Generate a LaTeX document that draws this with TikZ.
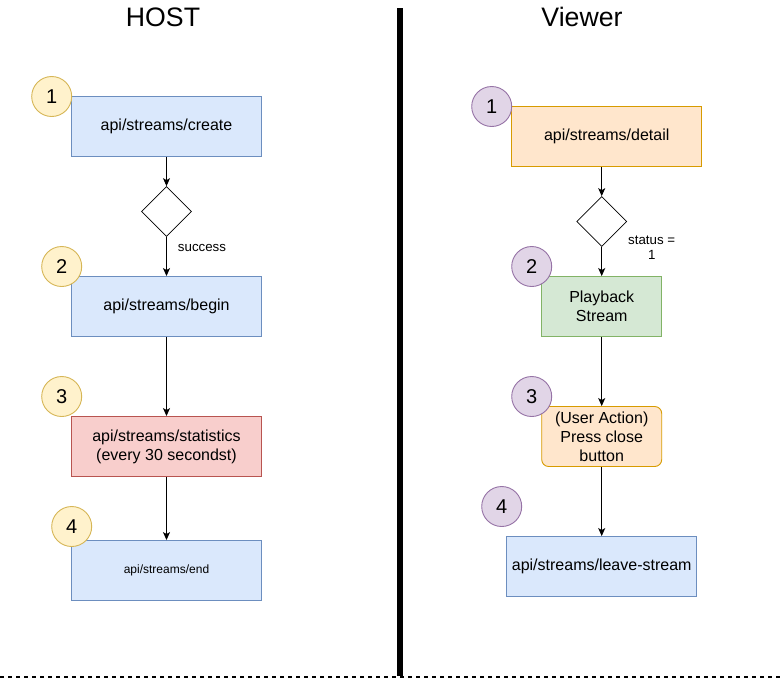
\documentclass[tikz,border=0pt]{standalone}
\usepackage{fontspec}
\setmainfont{Liberation Sans}
\usetikzlibrary{arrows.meta,shapes.geometric}

\definecolor{blueFill}{HTML}{DAE8FC}
\definecolor{blueLine}{HTML}{6C8EBF}
\definecolor{redFill}{HTML}{F8CECC}
\definecolor{redLine}{HTML}{B85450}
\definecolor{orangeFill}{HTML}{FFE6CC}
\definecolor{orangeLine}{HTML}{D79B00}
\definecolor{greenFill}{HTML}{D5E8D4}
\definecolor{greenLine}{HTML}{82B366}
\definecolor{yellowFill}{HTML}{FFF2CC}
\definecolor{yellowLine}{HTML}{D6B656}
\definecolor{purpleFill}{HTML}{E1D5E7}
\definecolor{purpleLine}{HTML}{9673A6}

\begin{document}
\begin{tikzpicture}[x=1pt,y=-1pt,
    box/.style={draw, line width=0.9pt, minimum height=60pt, inner sep=2pt, align=center, font=\fontsize{16}{19}\selectfont},
    wide/.style={box, minimum width=190pt},
    narrow/.style={box, minimum width=120pt},
    hostbox/.style={wide, fill=blueFill, draw=blueLine},
    num/.style={circle, draw, line width=0.9pt, minimum size=40pt, inner sep=0pt, font=\fontsize{20}{24}\selectfont},
    hostnum/.style={num, fill=yellowFill, draw=yellowLine},
    viewnum/.style={num, fill=purpleFill, draw=purpleLine},
    check/.style={diamond, draw, line width=0.7pt, minimum size=50pt, inner sep=0pt},
    flow/.style={draw, line width=0.9pt, -{Stealth[length=8pt,width=7pt,inset=2pt]}},
    title/.style={font=\fontsize{26.7}{30}\selectfont}]

    \useasboundingbox (0,0) rectangle (783,681);

    % separators
    \draw[line width=5.5pt] (400,8) -- (400,676);
    \draw[line width=1.8pt, dash pattern=on 4pt off 4pt] (0,677) -- (783,677);

    \node[title] (host) at (163,17) {HOST};
    \node[title] (viewer) at (582,17) {Viewer};

    % host side
    \node[hostbox] (create) at (166.5,126.5) {api/streams/create};
    \node[check] (ok) at (166.5,211.5) {};
    \node[hostbox] (begin) at (166.5,306.5) {api/streams/begin};
    \node[wide, fill=redFill, draw=redLine] (stats) at (166.5,446.5) {api/streams/statistics\\(every 30 secondst)};
    \node[hostbox, font=\fontsize{12}{14}\selectfont] (end) at (166.5,570.5) {api/streams/end};

    \node[font=\fontsize{13.3}{15}\selectfont] (success) at (202,247.5) {success};

    \draw[flow] (create) -- (ok);
    \draw[flow] (ok) -- (begin);
    \draw[flow] (begin) -- (stats);
    \draw[flow] (stats) -- (end);

    \node[hostnum] (h1) at (51.7,96.5) {1};
    \node[hostnum] (h2) at (61.7,266.5) {2};
    \node[hostnum] (h3) at (61.7,396.5) {3};
    \node[hostnum] (h4) at (71.7,526.5) {4};

    % viewer side
    \node[wide, fill=orangeFill, draw=orangeLine] (detail) at (606.7,136.5) {api/streams/detail};
    \node[check] (live) at (601.7,221.5) {};
    \node[narrow, fill=greenFill, draw=greenLine] (play) at (601.7,306.5) {Playback\\Stream};
    \node[narrow, rounded corners=7pt, fill=orangeFill, draw=orangeLine] (close) at (601.7,436.5) {(User Action)\\Press close\\button};
    \node[wide, fill=blueFill, draw=blueLine] (leave) at (601.7,566.5) {api/streams/leave-stream};

    \node[font=\fontsize{13.3}{15.5}\selectfont, align=center] (status) at (651.7,247.5) {status =\\1};

    \draw[flow] (live.north |- detail.south) -- (live);
    \draw[flow] (live) -- (play);
    \draw[flow] (play) -- (close);
    \draw[flow] (close) -- (leave);

    \node[viewnum] (v1) at (491.7,106.5) {1};
    \node[viewnum] (v2) at (531.7,266.5) {2};
    \node[viewnum] (v3) at (531.7,396.5) {3};
    \node[viewnum] (v4) at (501.7,506.5) {4};

\end{tikzpicture}
\end{document}
